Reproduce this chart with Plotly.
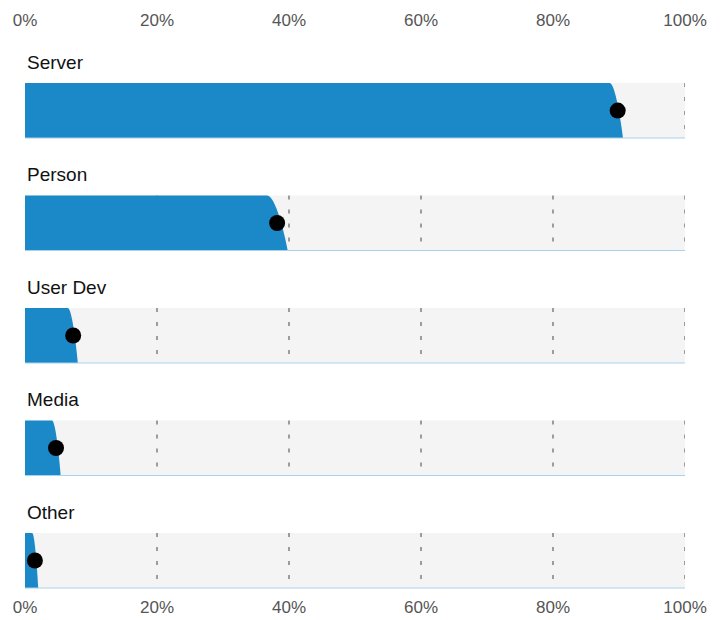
import plotly.graph_objects as go

categories = ["Server", "Person", "User Dev", "Media", "Other"]
values = [89.8, 38.2, 7.3, 4.7, 1.5]
edge_low = [88.6, 36.7, 6.5, 4.1, 1.1]
edge_high = [90.6, 39.8, 8.0, 5.4, 2.0]
tick_vals = [0, 20, 40, 60, 80, 100]
tick_text = ["0%", "20%", "40%", "60%", "80%", "100%"]

BLUE = "#1b88c7"
BAND = "#f4f4f4"
HALF = 0.2444

fig = go.Figure()
shapes = []
annotations = []
for i, cat in enumerate(categories):
    top, bot = i - HALF, i + HALF
    shapes.append(dict(type="rect", xref="x", yref="y", x0=0, x1=100, y0=top, y1=bot,
                       fillcolor=BAND, line=dict(width=0), layer="below"))
    for g in tick_vals[1:]:
        shapes.append(dict(type="line", xref="x", yref="y", x0=g, x1=g, y0=top, y1=bot,
                           line=dict(color="#444444", width=1, dash="4px,10px"), layer="below"))
    lo, hi = edge_low[i], edge_high[i]
    d = hi - lo
    h = bot - top
    path = (f"M 0,{top} L {lo},{top} "
            f"C {lo + 0.4 * d},{top} {hi - 0.15 * d},{bot - 0.3 * h} {hi},{bot} "
            f"L 0,{bot} Z")
    shapes.append(dict(type="path", xref="x", yref="y", path=path,
                       fillcolor=BLUE, line=dict(width=0), layer="below"))
    shapes.append(dict(type="line", xref="x", yref="y", x0=0, x1=100, y0=bot, y1=bot,
                       line=dict(color="#a9d2ec", width=1), layer="below"))
    annotations.append(dict(xref="x", yref="y", x=0, y=i - 0.431, text=cat, showarrow=False,
                            xanchor="left", yanchor="middle",
                            font=dict(size=19, color="#111111", family="Liberation Sans")))

fig.add_trace(go.Scatter(x=values, y=list(range(len(categories))), mode="markers",
                         marker=dict(color="black", size=16), hoverinfo="skip",
                         showlegend=False))
fig.add_trace(go.Scatter(x=values, y=list(range(len(categories))), mode="markers",
                         marker=dict(opacity=0), xaxis="x2", hoverinfo="skip",
                         showlegend=False))

axis_common = dict(range=[0, 100], tickvals=tick_vals, ticktext=tick_text, showgrid=False,
                   zeroline=False, showline=False, ticks="", automargin=False,
                   tickfont=dict(size=17, color="#555555", family="Liberation Sans"))
fig.update_layout(
    width=719, height=612,
    margin=dict(l=17, r=42, t=32, b=30),
    plot_bgcolor="white", paper_bgcolor="white",
    xaxis=dict(**axis_common, side="bottom", ticklabelstandoff=5),
    xaxis2=dict(**axis_common, side="top", overlaying="x", matches="x", ticklabelstandoff=10),
    yaxis=dict(range=[4.262, -0.627], visible=False, showgrid=False, zeroline=False,
               automargin=False),
    shapes=shapes,
    annotations=annotations,
)
fig.write_html("out.html")
